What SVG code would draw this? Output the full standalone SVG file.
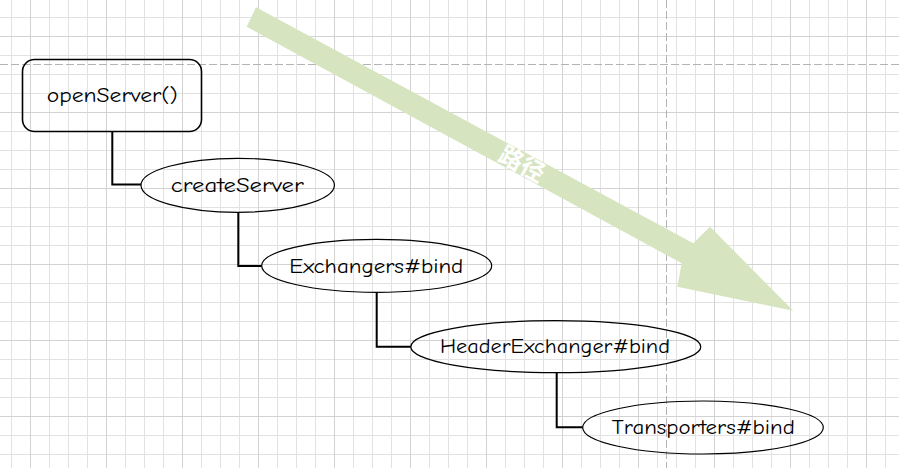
<svg xmlns="http://www.w3.org/2000/svg" width="899" height="468" viewBox="0 0 899 468">
  <defs>
    <pattern id="grid" patternUnits="userSpaceOnUse" x="30" y="36" width="76" height="76">
      <path d="M19.5 0V76M38.5 0V76M57.5 0V76M0 19.5H76M0 38.5H76M0 57.5H76" stroke="#e2e2e2" stroke-width="1" fill="none"/>
      <path d="M0.5 0V76M0 0.5H76" stroke="#d2d2d2" stroke-width="1" fill="none"/>
    </pattern>
  </defs>
  <style>
    .node { fill: none; stroke: #000; }
    .label { font-family: "Comic Sans MS", "Comic Neue", "Noto Sans", sans-serif; font-size: 20px; fill: #000; text-anchor: middle; }
    .conn { fill: none; stroke: #000; stroke-width: 2; }
    .pagebreak { stroke: #b3b3b3; stroke-width: 1; stroke-dasharray: 8 3; fill: none; }
  </style>
  <rect width="899" height="468" fill="#ffffff"/>
  <rect width="899" height="468" fill="url(#grid)"/>
  <path class="pagebreak" d="M0 64.5H899M666.5 0V468"/>

  <g id="path-arrow">
    <polygon points="256,7.3 693.3,243.3 710,226.7 793.3,310.7 677.3,286.7 681.7,263.3 246.7,26.7" fill="#d6e4bf"/>
    <text x="522" y="172.5" transform="rotate(28.5 522 164)" font-family="'Noto Sans CJK SC', sans-serif" font-size="24" font-weight="bold" fill="#ffffff" text-anchor="middle">路径</text>
  </g>

  <g id="connectors">
    <path class="conn" d="M112.3 131.5V184.5H141"/>
    <path class="conn" d="M238.3 212.3V266H261.7"/>
    <path class="conn" d="M376.7 292.3V346.7H411"/>
    <path class="conn" d="M556.7 372.7V427.3H582.7"/>
  </g>

  <g id="openServer">
    <rect class="node" x="22.5" y="59.5" width="179" height="72" rx="12" ry="12" stroke-width="1.6"/>
    <text class="label" x="112.2" y="102" textLength="131" lengthAdjust="spacingAndGlyphs">openServer()</text>
  </g>
  <g id="createServer">
    <ellipse class="node" cx="237.7" cy="185.3" rx="96.7" ry="27" stroke-width="1.2"/>
    <text class="label" x="237.3" y="192" textLength="133" lengthAdjust="spacingAndGlyphs">createServer</text>
  </g>
  <g id="exchangersBind">
    <ellipse class="node" cx="376.7" cy="265.8" rx="115" ry="26.5" stroke-width="1.2"/>
    <text class="label" x="376.3" y="273" textLength="174" lengthAdjust="spacingAndGlyphs">Exchangers#bind</text>
  </g>
  <g id="headerExchangerBind">
    <ellipse class="node" cx="555.8" cy="346.7" rx="145" ry="26" stroke-width="1.2"/>
    <text class="label" x="555" y="353" textLength="230" lengthAdjust="spacingAndGlyphs">HeaderExchanger#bind</text>
  </g>
  <g id="transportersBind">
    <ellipse class="node" cx="703" cy="427.5" rx="120.3" ry="26.5" stroke-width="1.2"/>
    <text class="label" x="703.3" y="433.6" textLength="183" lengthAdjust="spacingAndGlyphs">Transporters#bind</text>
  </g>
</svg>
